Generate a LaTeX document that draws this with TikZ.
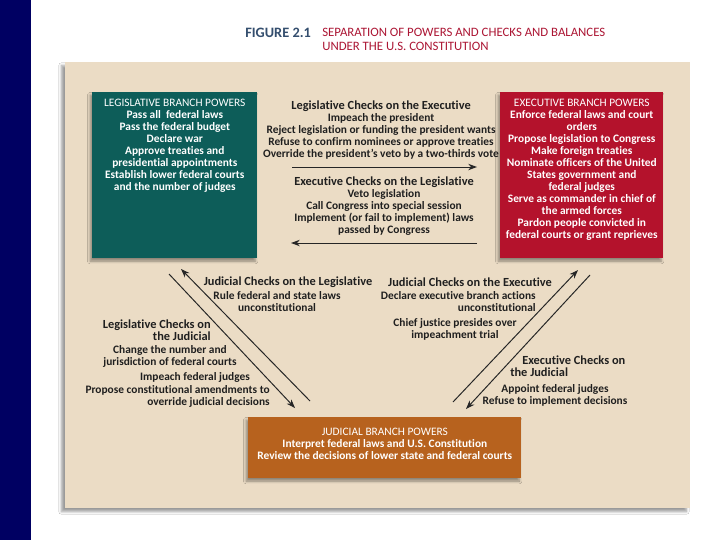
\documentclass[tikz,border=0pt]{standalone}
\usepackage{fontspec}
\setmainfont{Carlito}[Ligatures=NoCommon]
\usetikzlibrary{arrows.meta,positioning,shadows.blur}

\definecolor{navybar}{RGB}{0,0,98}
\definecolor{panelbeige}{RGB}{235,220,197}
\definecolor{legteal}{RGB}{13,93,89}
\definecolor{exered}{RGB}{180,18,44}
\definecolor{judorange}{RGB}{183,98,30}
\definecolor{figblue}{RGB}{52,78,110}
\definecolor{figred}{RGB}{172,22,52}

\begin{document}
\begin{tikzpicture}[x=0.025cm, y=-0.025cm,
  panel/.style={fill=panelbeige, blur shadow={shadow xshift=-2.5pt, shadow yshift=-2.5pt, shadow blur steps=6}},
  powerbox/.style={anchor=north west, inner sep=0pt,
    blur shadow={shadow xshift=-1.5pt, shadow yshift=-2pt, shadow blur steps=5}},
  boxtext/.style={text=white, align=center, inner sep=0pt,
    font=\fontsize{8.1}{8.55}\selectfont\bfseries},
  checktext/.style={align=center, inner sep=0pt, text=black!88,
    font=\fontsize{8.1}{8.55}\selectfont\bfseries},
  checkhead/.style={checktext, font=\fontsize{8.8}{8.9}\selectfont\bfseries},
  arr/.style={-{Stealth[length=2.2mm, width=1.6mm]}, line width=0.7pt, draw=black!85}
]
  \useasboundingbox (0,0) rectangle (720,540);
  \fill[white] (0,0) rectangle (720,540);
  \fill[navybar] (0,0) rectangle (31,540);

  % title
  \node[font=\fontsize{10.2}{10}\selectfont\bfseries, text=figblue, anchor=west, inner sep=0pt]
    (fig) at (245,33) {FIGURE 2.1};
  \node[font=\fontsize{9.1}{10}\selectfont, text=figred, align=left, anchor=north west, inner sep=0pt]
    (figtitle) at (322,28) {SEPARATION OF POWERS AND CHECKS AND BALANCES\\UNDER THE U.S. CONSTITUTION};

  \fill[panel] (65,62) rectangle (690,508);

  % the three branches
  \node[powerbox, fill=legteal, minimum width=4.125cm, minimum height=4.15cm] (leg) at (92,92) {};
  \node[boxtext, below=0.16cm of leg.north] (legtxt)
    {{\mdseries LEGISLATIVE BRANCH POWERS}\\Pass all \ federal laws\\Pass the federal budget\\Declare war\\
     Approve treaties and\\presidential appointments\\Establish lower federal courts\\and the number of judges};

  \node[powerbox, fill=exered, minimum width=4.075cm, minimum height=4.15cm] (exe) at (500,92) {};
  \node[boxtext, below=0.16cm of exe.north] (exetxt)
    {{\mdseries EXECUTIVE BRANCH POWERS}\\Enforce federal laws and court\\orders\\Propose legislation to Congress\\
     Make foreign treaties\\Nominate officers of the United\\States government and\\federal judges\\
     Serve as commander in chief of\\the armed forces\\Pardon people convicted in\\federal courts or grant reprieves};

  \node[powerbox, fill=judorange, minimum width=6.825cm, minimum height=1.525cm] (jud) at (248,417) {};
  \node[boxtext, anchor=center] (judtxt) at ([yshift=0.09cm]jud.center)
    {{\mdseries JUDICIAL BRANCH POWERS}\\Interpret federal laws and U.S. Constitution\\Review the decisions of lower state and federal courts};

  % legislative <-> executive
  \node[checktext] (lce) at (381,130)
    {{\fontsize{8.8}{8.55}\selectfont Legislative Checks on the Executive}\\Impeach the president\\
     Reject legislation or funding the president wants\\Refuse to confirm nominees or approve treaties\\
     Override the president's veto by a two-thirds vote};
  \node[checktext] (ecl) at (384,206)
    {{\fontsize{8.8}{8.55}\selectfont Executive Checks on the Legislative}\\Veto legislation\\
     Call Congress into special session\\Implement (or fail to implement) laws\\passed by Congress};
  \coordinate (le1) at (292,167);
  \coordinate (le2) at (477,167);
  \coordinate (el1) at (477,243);
  \coordinate (el2) at (291,243);
  \draw[arr] (le1) -- (le2);
  \draw[arr] (el1) -- (el2);

  % legislative <-> judicial
  \node[checkhead] (jclhead) at (288,282) {Judicial Checks on the Legislative};
  \node[checktext] (jcltxt) at (277,302) {Rule federal and state laws\\unconstitutional};
  \node[checkhead, align=right, anchor=east] (lcjhead) at (211,330) {Legislative Checks on\\the Judicial};
  \node[checktext] (lcjtxt1) at (170,356) {Change the number and\\jurisdiction of federal courts};
  \node[checktext] (lcjtxt2) at (195,377) {Impeach federal judges};
  \node[checktext, align=right, anchor=east] (lcjtxt3) at (270,396)
    {Propose constitutional amendments to\\override judicial decisions};
  \coordinate (jl1) at (310,401);
  \coordinate (jl2) at (181,269);
  \coordinate (lj1) at (169,274);
  \coordinate (lj2) at (295,408);
  \draw[arr] (jl1) -- (jl2);
  \draw[arr] (lj1) -- (lj2);

  % executive <-> judicial
  \node[checkhead] (jcehead) at (470,282) {Judicial Checks on the Executive};
  \node[checktext, align=right, anchor=east] (jcetxt) at (536,302)
    {Declare executive branch actions\\unconstitutional};
  \node[checktext] (jcetxt2) at (455,329) {Chief justice presides over\\impeachment trial};
  \node[checkhead, align=left, anchor=west] (ecjhead) at (510,366) {\hspace*{0.3cm}Executive Checks on\\the Judicial};
  \node[checktext] (ecjtxt) at (555,395) {Appoint federal judges\\Refuse to implement decisions};
  \coordinate (je1) at (453,402);
  \coordinate (je2) at (578,270);
  \coordinate (ej1) at (590,275);
  \coordinate (ej2) at (466,409);
  \draw[arr] (je1) -- (je2);
  \draw[arr] (ej1) -- (ej2);
\end{tikzpicture}
\end{document}
